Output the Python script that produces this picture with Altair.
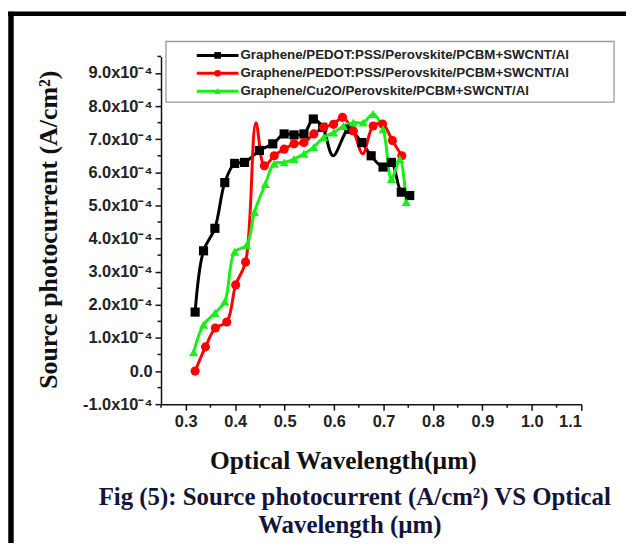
import altair as alt
import pandas as pd

# ---------------- data (y in units of A/cm^2) ----------------
series_ids = ["s1", "s2", "s3"]
legend_labels = [
    "Graphene/PEDOT:PSS/Perovskite/PCBM+SWCNT/Al",
    "Graphene/PEDOT:PSS/Perovskite/PCBM+SWCNT/Al",
    "Graphene/Cu2O/Perovskite/PCBM+SWCNT/Al",
]
colors = ["#000000", "#ff0000", "#19ee19"]
shapes = ["square", "circle", "triangle-up"]

black_x = [0.319, 0.336, 0.359, 0.379, 0.399, 0.419, 0.449, 0.476, 0.499, 0.519,
           0.539, 0.558, 0.577, 0.630, 0.656, 0.675, 0.699, 0.716, 0.736, 0.753]
black_y = [1.78e-4, 3.63e-4, 4.31e-4, 5.69e-4, 6.27e-4, 6.30e-4, 6.66e-4, 6.86e-4, 7.16e-4, 7.13e-4,
           7.16e-4, 7.61e-4, 7.36e-4, 7.30e-4, 6.90e-4, 6.50e-4, 6.16e-4, 6.30e-4, 5.40e-4, 5.30e-4]
# points the smoothed curve passes through between markers
black_curve_x = [0.598]
black_curve_y = [6.50e-4]

red_x = [0.319, 0.340, 0.360, 0.383, 0.401, 0.421, 0.459, 0.479, 0.499, 0.519,
         0.539, 0.559, 0.579, 0.599, 0.617, 0.639, 0.679, 0.698, 0.718, 0.737]
red_y = [0.00e-4, 0.73e-4, 1.30e-4, 1.48e-4, 2.60e-4, 3.29e-4, 6.20e-4, 6.50e-4, 6.70e-4, 6.86e-4,
         6.90e-4, 7.16e-4, 7.36e-4, 7.45e-4, 7.66e-4, 7.25e-4, 7.40e-4, 7.46e-4, 6.96e-4, 6.50e-4]
red_curve_x = [0.442, 0.658]
red_curve_y = [7.50e-4, 6.56e-4]

green_x = [0.316, 0.336, 0.359, 0.379, 0.399, 0.423, 0.439, 0.461, 0.479, 0.499, 0.519, 0.539,
           0.559, 0.579, 0.599, 0.619, 0.639, 0.659, 0.679, 0.699, 0.716, 0.733, 0.746]
green_y = [0.57e-4, 1.40e-4, 1.75e-4, 2.10e-4, 3.60e-4, 3.80e-4, 4.80e-4, 5.65e-4, 6.26e-4, 6.30e-4, 6.40e-4, 6.56e-4,
           6.76e-4, 7.06e-4, 7.20e-4, 7.40e-4, 7.50e-4, 7.50e-4, 7.76e-4, 7.30e-4, 5.80e-4, 6.40e-4, 5.10e-4]
green_curve_x = []
green_curve_y = []

x_ticks = [0.3, 0.4, 0.5, 0.6, 0.7, 0.8, 0.9, 1.0, 1.1]
x_minor = [0.25, 0.35, 0.45, 0.55, 0.65, 0.75, 0.85, 0.95, 1.05]
y_ticks = [-1e-4, 0.0, 1e-4, 2e-4, 3e-4, 4e-4, 5e-4, 6e-4, 7e-4, 8e-4, 9e-4]
y_minor = [-0.5e-4, 0.5e-4, 1.5e-4, 2.5e-4, 3.5e-4, 4.5e-4, 5.5e-4, 6.5e-4, 7.5e-4, 8.5e-4, 9.5e-4]
x_domain = [0.25, 1.1]
y_domain = [-1e-4, 9.5e-4]

x_title = "Optical Wavelength(µm)"
y_title = "Source photocurrent (A/cm²)"
caption = ["Fig (5): Source photocurrent (A/cm²) VS Optical", "Wavelength (µm)"]

# ---------------- tables ----------------
markers = []
curve = []
for sid, xs, ys, cx, cy in [
    ("s1", black_x, black_y, black_curve_x, black_curve_y),
    ("s2", red_x, red_y, red_curve_x, red_curve_y),
    ("s3", green_x, green_y, green_curve_x, green_curve_y),
]:
    for a, b in zip(xs, ys):
        markers.append({"series": sid, "x": a, "y": b})
        curve.append({"series": sid, "x": a, "y": b})
    for a, b in zip(cx, cy):
        curve.append({"series": sid, "x": a, "y": b})
markers_df = pd.DataFrame(markers)
curve_df = pd.DataFrame(curve).sort_values(["series", "x"]).reset_index(drop=True)

W, H = 423, 350
SANS = "Liberation Sans"
SERIF = "Liberation Serif"

xscale = alt.Scale(domain=x_domain, nice=False, zero=False)
yscale = alt.Scale(domain=y_domain, nice=False, zero=False)
cscale = alt.Scale(domain=series_ids, range=colors)
sscale = alt.Scale(domain=series_ids, range=shapes)

xaxis = alt.Axis(
    values=x_ticks, format=".1f", grid=False,
    domainColor="#111", domainWidth=1.5, tickColor="#111", tickWidth=1.5, tickSize=6,
    labelFont=SANS, labelFontWeight="bold", labelFontSize=16.5, labelColor="#222", labelPadding=3,
    title=x_title, titleFont=SERIF, titleFontWeight="bold", titleFontSize=25.5, titleColor="#111",
    titleX=183, titleY=57, titleBaseline="middle", titleAlign="center", titleAnchor="start",
)
yaxis = alt.Axis(
    values=y_ticks, grid=False,
    labelExpr="datum.value == 0 ? '0.0' : replace(format(datum.value*1e4, '.1f'), '\u2212', '-') + 'x10\u207b\u2074'",
    domainColor="#111", domainWidth=1.5, tickColor="#111", tickWidth=1.5, tickSize=6,
    labelFont=SANS, labelFontWeight="bold", labelFontSize=16.5, labelColor="#222", labelPadding=3,
    title=y_title, titleFont=SERIF, titleFontWeight="bold", titleFontSize=26, titleColor="#111",
    titleX=-113, titleY=174, titleBaseline="middle", titleAlign="center", titleAngle=-90, titleAnchor="start",
)

lines = alt.Chart(curve_df).mark_line(interpolate="catmull-rom", strokeWidth=3).encode(
    x=alt.X("x:Q", scale=xscale, axis=xaxis),
    y=alt.Y("y:Q", scale=yscale, axis=yaxis),
    color=alt.Color("series:N", scale=cscale, legend=None),
    detail="series:N",
)
points = alt.Chart(markers_df).mark_point(filled=True, opacity=1, size=85).encode(
    x=alt.X("x:Q", scale=xscale, axis=xaxis),
    y=alt.Y("y:Q", scale=yscale, axis=yaxis),
    color=alt.Color("series:N", scale=cscale, legend=None),
    shape=alt.Shape("series:N", scale=sscale, legend=None),
)

xminor_df = pd.DataFrame({"x": x_minor})
yminor_df = pd.DataFrame({"y": y_minor})
xmin_rules = alt.Chart(xminor_df).mark_rule(color="#111", strokeWidth=1.5).encode(
    x=alt.X("x:Q", scale=xscale, axis=xaxis), y=alt.value(H), y2=alt.value(H + 3.5)
)
ymin_rules = alt.Chart(yminor_df).mark_rule(color="#111", strokeWidth=1.5).encode(
    y=alt.Y("y:Q", scale=yscale, axis=yaxis), x=alt.value(0), x2=alt.value(-3.5)
)

one = pd.DataFrame({"a": [0]})
layers = [xmin_rules, ymin_rules, lines, points]

# outer figure frame
layers.append(alt.Chart(one).mark_rule(color="#000", strokeWidth=4.5).encode(
    x=alt.value(-154), x2=alt.value(472), y=alt.value(-43)))
layers.append(alt.Chart(one).mark_rule(color="#000", strokeWidth=5.5).encode(
    x=alt.value(-151), y=alt.value(-45), y2=alt.value(495)))

# legend box
layers.append(alt.Chart(one).mark_rect(fill="white", stroke="#9a9a9a", strokeWidth=1.3).encode(
    x=alt.value(5), x2=alt.value(456), y=alt.value(-15), y2=alt.value(46)))
row_y = [-1, 17, 35]
for i, sid in enumerate(series_ids):
    layers.append(alt.Chart(one).mark_rule(color=colors[i], strokeWidth=3).encode(
        x=alt.value(36), x2=alt.value(78), y=alt.value(row_y[i])))
    layers.append(alt.Chart(one).mark_point(filled=True, opacity=1, size=45, shape=shapes[i], color=colors[i]).encode(
        x=alt.value(57), y=alt.value(row_y[i])))
    layers.append(alt.Chart(one).mark_text(
        text=legend_labels[i], font=SANS, fontWeight="bold", fontSize=13.4, color="#222",
        align="left", baseline="middle").encode(x=alt.value(80), y=alt.value(row_y[i])))

# caption
cap_x = [195, 190]
cap_y = [443, 472]
for i, line in enumerate(caption):
    layers.append(alt.Chart(one).mark_text(
        text=line, font=SERIF, fontWeight="bold", fontSize=25, color="#14143a",
        align="center", baseline="middle").encode(x=alt.value(cap_x[i]), y=alt.value(cap_y[i])))

chart = alt.layer(*layers).properties(
    width=W, height=H,
    autosize=alt.AutoSizeParams(type="none"),
    padding={"left": 154, "top": 47, "right": 45, "bottom": 138},
    background="white",
).configure_view(stroke=None)

chart.save("out.html", embed_options={"renderer": "svg", "actions": False})
